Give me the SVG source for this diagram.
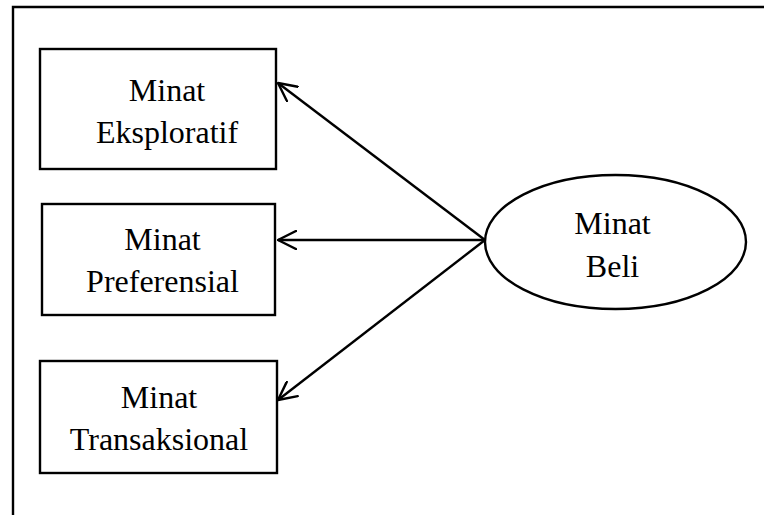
<svg xmlns="http://www.w3.org/2000/svg" width="764" height="515" viewBox="0 0 764 515">
  <style>
    .frame { fill: none; stroke: #000; stroke-width: 2.4; }
    .node { fill: #fff; stroke: #000; stroke-width: 2.4; }
    .label { font-family: "Liberation Serif", "Times New Roman", serif; font-size: 32px; fill: #000; text-anchor: middle; }
    .edge { fill: none; stroke: #000; stroke-width: 2.4; marker-end: url(#arrow); }
  </style>
  <defs>
    <marker id="arrow" viewBox="0 0 20 20" refX="19" refY="10" markerWidth="20" markerHeight="20" markerUnits="userSpaceOnUse" orient="auto">
      <path d="M1,1 L19,10 L1,19" fill="none" stroke="#000" stroke-width="2.4" stroke-linecap="round" stroke-linejoin="round"/>
    </marker>
  </defs>
  <rect width="764" height="515" fill="#fff"/>
  <!-- outer frame: top and left edges -->
  <path class="frame" d="M13,515 L13,7 L764,7"/>

  <g id="connectors">
    <line class="edge" x1="485" y1="240" x2="278" y2="83"/>
    <line class="edge" x1="485" y1="240" x2="278" y2="240"/>
    <line class="edge" x1="485" y1="240" x2="278" y2="400"/>
  </g>

  <g id="minat-eksploratif">
    <rect class="node" x="40" y="49" width="236" height="120"/>
    <text class="label" x="167" y="101">Minat</text>
    <text class="label" x="167" y="143">Eksploratif</text>
  </g>

  <g id="minat-preferensial">
    <rect class="node" x="42" y="204" width="233" height="111"/>
    <text class="label" x="162.5" y="250">Minat</text>
    <text class="label" x="162.5" y="292">Preferensial</text>
  </g>

  <g id="minat-transaksional">
    <rect class="node" x="40" y="361" width="237" height="112"/>
    <text class="label" x="159" y="408">Minat</text>
    <text class="label" x="159" y="450">Transaksional</text>
  </g>

  <g id="minat-beli">
    <ellipse class="node" cx="615.5" cy="242" rx="130.5" ry="67"/>
    <text class="label" x="612.5" y="234">Minat</text>
    <text class="label" x="612.5" y="277">Beli</text>
  </g>
</svg>
